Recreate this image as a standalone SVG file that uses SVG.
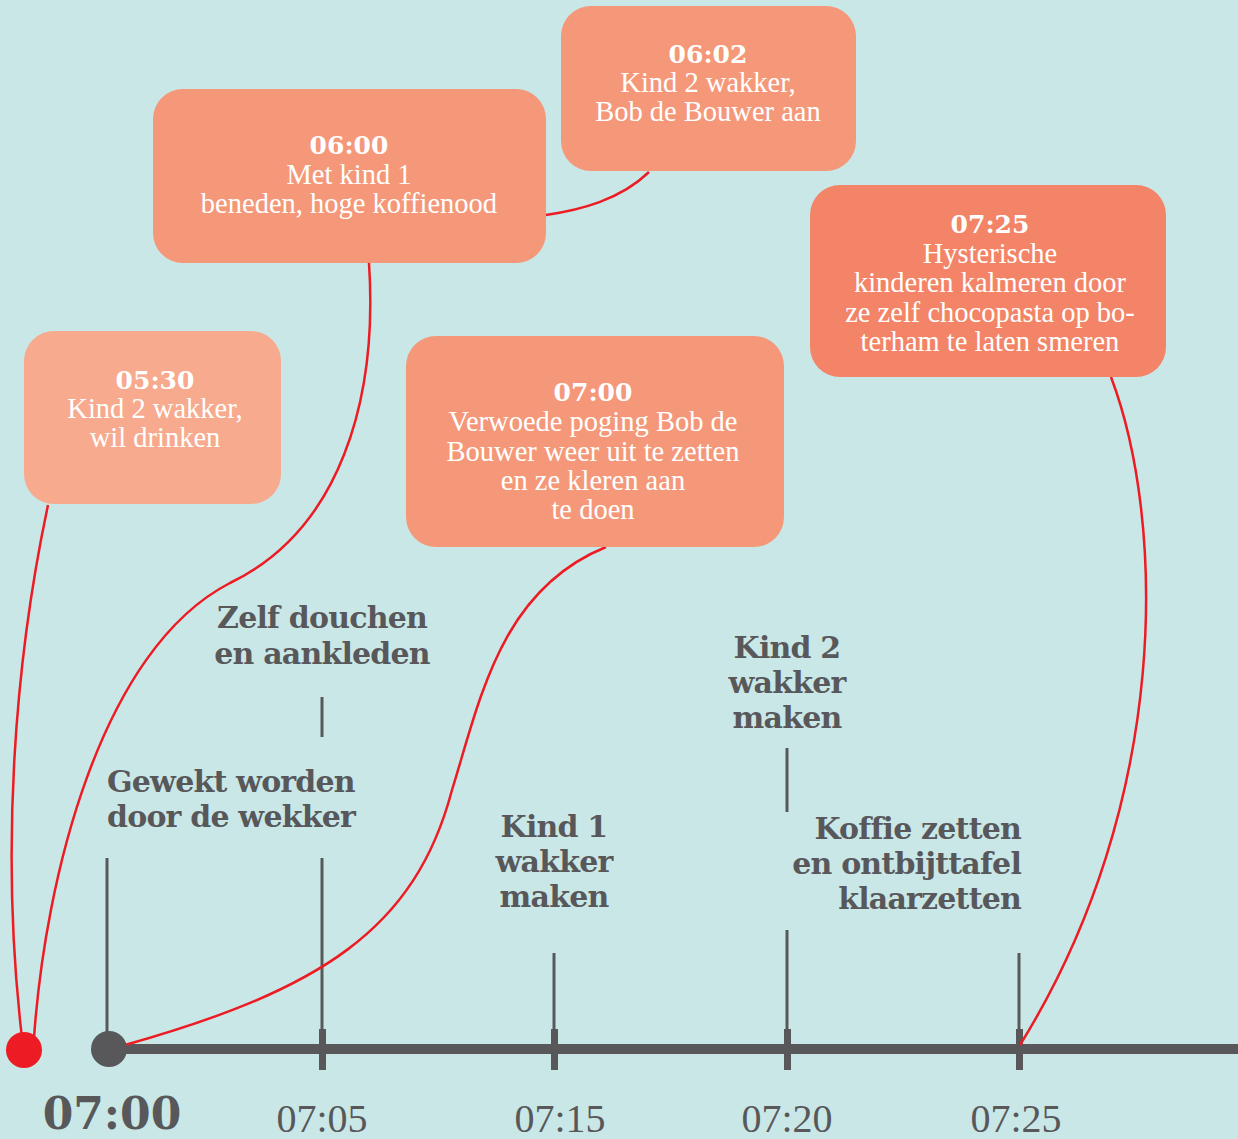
<svg xmlns="http://www.w3.org/2000/svg" width="1238" height="1139" viewBox="0 0 1238 1139">
<style>
.box{fill:#F59879}
.bt{font-family:"Liberation Serif","Times New Roman",serif;font-size:28.5px;fill:#FFFFFF;text-anchor:middle}
.bh{font-family:"DejaVu Serif",serif;font-weight:bold;font-size:25px;fill:#FFFFFF;text-anchor:middle}
.lb{font-family:"DejaVu Serif",serif;font-weight:bold;font-size:30px;fill:#58585A;letter-spacing:-0.8px}
.tm{font-family:"Liberation Serif","Times New Roman",serif;font-size:40px;fill:#58585A;text-anchor:middle}
.thin{stroke:#58585A;stroke-width:3;fill:none}
.tick{fill:#58585A}
.red{stroke:#ED1C24;stroke-width:2.5;fill:none}
</style>
<rect width="1238" height="1139" fill="#C9E7E7"/>
<g id="axis">
<rect x="108" y="1044" width="1130" height="10" class="tick"/>
<rect x="319" y="1029" width="7" height="41" class="tick"/>
<rect x="551" y="1029" width="7" height="41" class="tick"/>
<rect x="784" y="1029" width="7" height="41" class="tick"/>
<rect x="1016" y="1029" width="7" height="41" class="tick"/>
<line x1="107" y1="858" x2="107" y2="1040" class="thin"/>
<line x1="322" y1="858" x2="322" y2="1030" class="thin"/>
<line x1="322" y1="697" x2="322" y2="737" class="thin"/>
<line x1="554" y1="953" x2="554" y2="1030" class="thin"/>
<line x1="787" y1="930" x2="787" y2="1030" class="thin"/>
<line x1="787" y1="748" x2="787" y2="812" class="thin"/>
<line x1="1019" y1="953" x2="1019" y2="1030" class="thin"/>
</g>
<g id="connectors">
<path class="red" d="M48,505 C15,660 0,850 22,1038"/>
<path class="red" d="M369,263 C378,400 340,530 230,583 C100,650 45,880 34,1038"/>
<path class="red" d="M649,172 C620,200 580,210 546,215"/>
<path class="red" d="M606,547 C500,590 480,700 452,790 C415,930 320,990 125,1045"/>
<path class="red" d="M1111,377 C1165,520 1172,800 1020,1045"/>
</g>
<g id="dot-red"><circle cx="24" cy="1050" r="18" fill="#ED1C24"/></g>
<g id="dot-start"><circle cx="109" cy="1049" r="18" fill="#58585A"/></g>
<g id="t0700"><text x="112" y="1129" font-family="DejaVu Serif,serif" font-weight="bold" font-size="44" fill="#58585A" text-anchor="middle">07:00</text></g>
<g id="t0705"><text x="322" y="1132" class="tm">07:05</text></g>
<g id="t0715"><text x="560" y="1132" class="tm">07:15</text></g>
<g id="t0720"><text x="787" y="1132" class="tm">07:20</text></g>
<g id="t0725"><text x="1016" y="1132" class="tm">07:25</text></g>
<g id="l-gewekt"><text x="107" y="792" class="lb">Gewekt worden</text><text x="107" y="827" class="lb">door de wekker</text></g>
<g id="l-douchen"><text x="322" y="628" class="lb" text-anchor="middle">Zelf douchen</text><text x="322" y="664" class="lb" text-anchor="middle">en aankleden</text></g>
<g id="l-kind1"><text x="554" y="837" class="lb" text-anchor="middle">Kind 1</text><text x="554" y="872" class="lb" text-anchor="middle">wakker</text><text x="554" y="907" class="lb" text-anchor="middle">maken</text></g>
<g id="l-kind2"><text x="787" y="658" class="lb" text-anchor="middle">Kind 2</text><text x="787" y="693" class="lb" text-anchor="middle">wakker</text><text x="787" y="728" class="lb" text-anchor="middle">maken</text></g>
<g id="l-koffie"><text x="1021" y="839" class="lb" text-anchor="end">Koffie zetten</text><text x="1021" y="874" class="lb" text-anchor="end">en ontbijttafel</text><text x="1021" y="909" class="lb" text-anchor="end">klaarzetten</text></g>
<g id="b0530"><rect x="24" y="331" width="257" height="173" rx="30" fill="#F7AA8E"/>
<text x="155" y="389" class="bh">05:30</text><text x="155" y="418" class="bt">Kind 2 wakker,</text><text x="155" y="447" class="bt">wil drinken</text></g>
<g id="b0600"><rect x="153" y="89" width="393" height="174" rx="30" class="box"/>
<text x="349" y="154" class="bh">06:00</text><text x="349" y="184" class="bt">Met kind 1</text><text x="349" y="213" class="bt">beneden, hoge koffienood</text></g>
<g id="b0602"><rect x="561" y="6" width="295" height="165" rx="30" class="box"/>
<text x="708" y="63" class="bh">06:02</text><text x="708" y="92" class="bt">Kind 2 wakker,</text><text x="708" y="121" class="bt">Bob de Bouwer aan</text></g>
<g id="b0700"><rect x="406" y="336" width="378" height="211" rx="30" class="box"/>
<text x="593" y="401" class="bh">07:00</text><text x="593" y="431" class="bt">Verwoede poging Bob de</text><text x="593" y="461" class="bt">Bouwer weer uit te zetten</text><text x="593" y="490" class="bt">en ze kleren aan</text><text x="593" y="519" class="bt">te doen</text></g>
<g id="b0725"><rect x="810" y="185" width="356" height="192" rx="30" fill="#F38467"/>
<text x="990" y="233" class="bh">07:25</text><text x="990" y="263" class="bt">Hysterische</text><text x="990" y="292" class="bt">kinderen kalmeren door</text><text x="990" y="322" class="bt">ze zelf chocopasta op bo-</text><text x="990" y="351" class="bt">terham te laten smeren</text></g>
</svg>
